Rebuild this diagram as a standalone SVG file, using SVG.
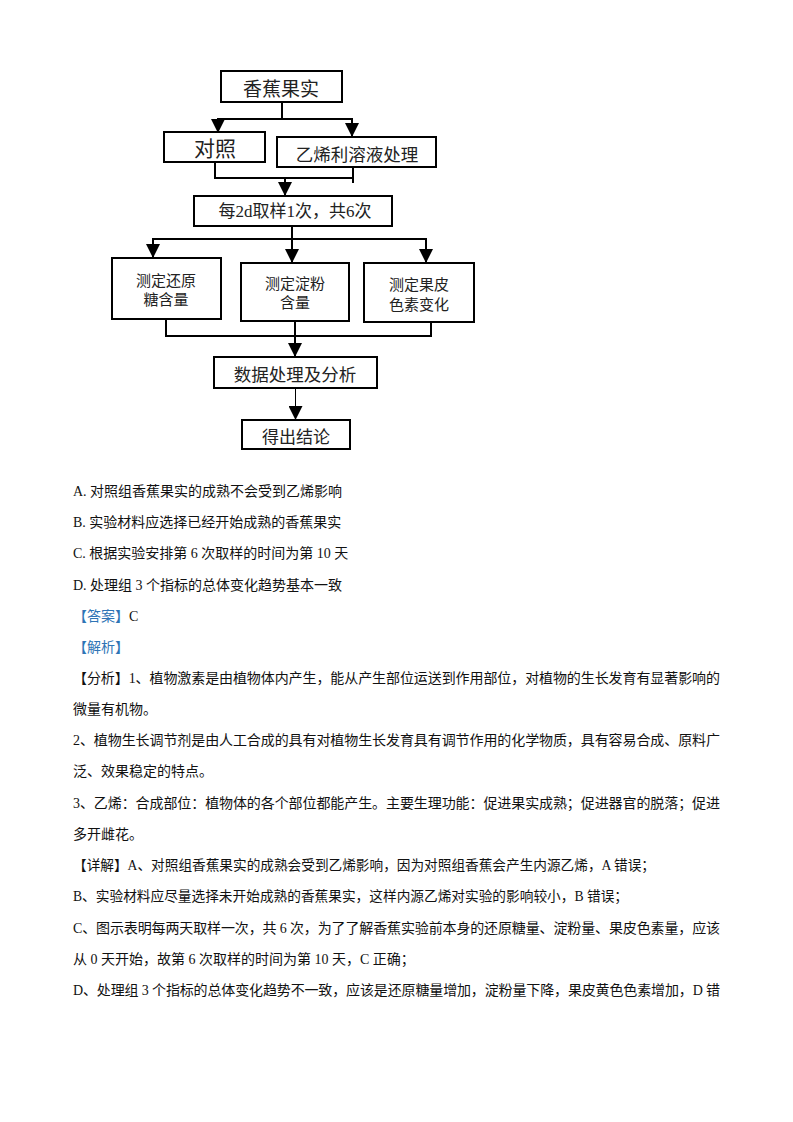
<svg xmlns="http://www.w3.org/2000/svg" width="793" height="1122" viewBox="0 0 793 1122">
<style>
.box{fill:#fff;stroke:#000;stroke-width:2}
.ln{fill:none;stroke:#000;stroke-width:2}
.thin{fill:none;stroke:#000;stroke-width:1}
.fc{font-family:"Noto Sans CJK SC","Noto Sans",sans-serif;fill:#222;text-anchor:middle;dominant-baseline:central}
.fs{font-family:"Liberation Serif","Noto Sans CJK SC",serif;fill:#222;text-anchor:middle;dominant-baseline:central}
.t{font-family:"Liberation Serif","Noto Sans CJK SC",serif;font-size:14px;fill:#111}
.blue{fill:#2E74B5}
</style>
<defs>
<marker id="ah" markerUnits="userSpaceOnUse" markerWidth="14" markerHeight="14" refX="14" refY="7" orient="auto" viewBox="0 0 14 14">
<path d="M0,0 L14,7 L0,14 z" fill="#000"/>
</marker>
</defs>
<rect width="793" height="1122" fill="#fff"/>
<g id="connectors">
<polyline class="ln" points="282,102 282,119"/>
<polyline class="ln" points="217,119 353,119"/>
<line class="ln" x1="218" y1="119" x2="218" y2="133" marker-end="url(#ah)"/>
<line class="ln" x1="352" y1="119" x2="352" y2="137" marker-end="url(#ah)"/>
<polyline class="ln" points="215,162 215,178 353,178"/>
<polyline class="ln" points="353,167 353,183"/>
<line class="ln" x1="285" y1="178" x2="285" y2="196" marker-end="url(#ah)"/>
<polyline class="ln" points="292,226 292,239"/>
<polyline class="ln" points="152,239 427,239"/>
<line class="ln" x1="153" y1="239" x2="153" y2="258" marker-end="url(#ah)"/>
<line class="ln" x1="292" y1="239" x2="292" y2="263" marker-end="url(#ah)"/>
<line class="ln" x1="426" y1="239" x2="426" y2="263" marker-end="url(#ah)"/>
<polyline class="ln" points="166,319 166,336 431,336 431,322"/>
<line class="ln" x1="295" y1="321" x2="295" y2="357" marker-end="url(#ah)"/>
<line class="thin" x1="295.5" y1="388" x2="295.5" y2="420" marker-end="url(#ah)"/>
</g>
<g id="n1"><rect class="box" x="221" y="71" width="121" height="31"/><text class="fc" x="281" y="87" font-size="19">香蕉果实</text></g>
<g id="n2"><rect class="box" x="164" y="132" width="101" height="30"/><text class="fc" x="215" y="147" font-size="21">对照</text></g>
<g id="n3"><rect class="box" x="277" y="137" width="159" height="30"/><text class="fc" x="357" y="153" font-size="17.5">乙烯利溶液处理</text></g>
<g id="n4"><rect class="box" x="194" y="196" width="198" height="30"/><text class="fs" x="295" y="211" font-size="17">每2d取样1次，共6次</text></g>
<g id="n5"><rect class="box" x="112" y="258" width="109" height="61"/><text class="fc" x="166" y="279" font-size="15">测定还原</text><text class="fc" x="166" y="298" font-size="15">糖含量</text></g>
<g id="n6"><rect class="box" x="241" y="263" width="108" height="58"/><text class="fc" x="295" y="282" font-size="15">测定淀粉</text><text class="fc" x="295" y="301" font-size="15">含量</text></g>
<g id="n7"><rect class="box" x="364" y="263" width="110" height="59"/><text class="fc" x="419" y="283" font-size="15">测定果皮</text><text class="fc" x="419" y="303" font-size="15">色素变化</text></g>
<g id="n8"><rect class="box" x="214" y="357" width="163" height="31"/><text class="fc" x="295" y="373" font-size="17.5">数据处理及分析</text></g>
<g id="n9"><rect class="box" x="242" y="420" width="108" height="29"/><text class="fc" x="296" y="435" font-size="17">得出结论</text></g>
<g id="text">
<text class="t" x="73" y="496">A.  对照组香蕉果实的成熟不会受到乙烯影响</text>
<text class="t" x="73" y="527">B.  实验材料应选择已经开始成熟的香蕉果实</text>
<text class="t" x="73" y="558">C.  根据实验安排第 6 次取样的时间为第 10 天</text>
<text class="t" x="73" y="590">D.  处理组 3 个指标的总体变化趋势基本一致</text>
<text class="t" x="73" y="621"><tspan class="blue">【答案】</tspan>C</text>
<text class="t blue" x="73" y="652">【解析】</text>
<text class="t" x="73" y="683" textLength="647" lengthAdjust="spacing">【分析】1、植物激素是由植物体内产生，能从产生部位运送到作用部位，对植物的生长发育有显著影响的</text>
<text class="t" x="73" y="714">微量有机物。</text>
<text class="t" x="73" y="745" textLength="647" lengthAdjust="spacing">2、植物生长调节剂是由人工合成的具有对植物生长发育具有调节作用的化学物质，具有容易合成、原料广</text>
<text class="t" x="73" y="776">泛、效果稳定的特点。</text>
<text class="t" x="73" y="808" textLength="647" lengthAdjust="spacing">3、乙烯：合成部位：植物体的各个部位都能产生。主要生理功能：促进果实成熟；促进器官的脱落；促进</text>
<text class="t" x="73" y="839">多开雌花。</text>
<text class="t" x="73" y="870" textLength="582" lengthAdjust="spacingAndGlyphs">【详解】A、对照组香蕉果实的成熟会受到乙烯影响，因为对照组香蕉会产生内源乙烯，A 错误；</text>
<text class="t" x="73" y="901" textLength="555" lengthAdjust="spacingAndGlyphs">B、实验材料应尽量选择未开始成熟的香蕉果实，这样内源乙烯对实验的影响较小，B 错误；</text>
<text class="t" x="73" y="933" textLength="647" lengthAdjust="spacing">C、图示表明每两天取样一次，共 6 次，为了了解香蕉实验前本身的还原糖量、淀粉量、果皮色素量，应该</text>
<text class="t" x="73" y="964">从 0 天开始，故第 6 次取样的时间为第 10 天，C 正确；</text>
<text class="t" x="73" y="995" textLength="647" lengthAdjust="spacing">D、处理组 3 个指标的总体变化趋势不一致，应该是还原糖量增加，淀粉量下降，果皮黄色色素增加，D 错</text>
</g>
</svg>
